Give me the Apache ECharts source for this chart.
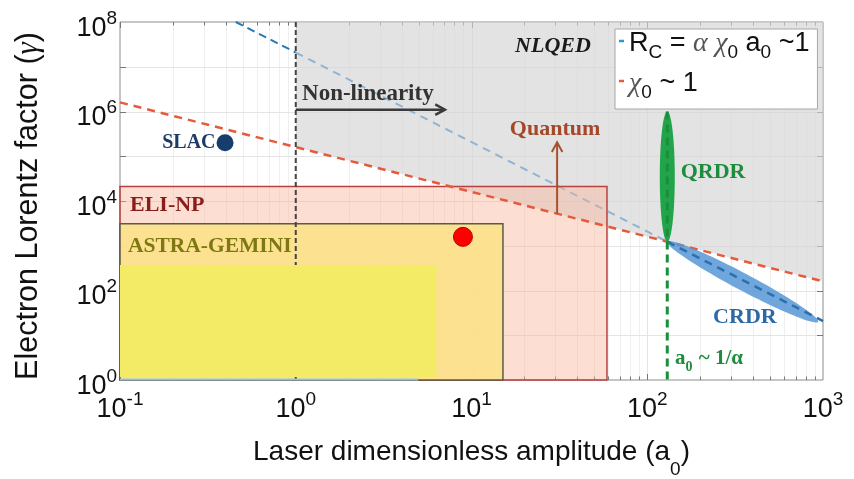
<!DOCTYPE html>
<html>
<head>
<meta charset="utf-8">
<script src="https://cdn.jsdelivr.net/npm/echarts@6/dist/echarts.min.js"></script>
<style>
  html, body { margin: 0; padding: 0; background: #fff; }
  #chart { width: 854px; height: 479px; }
</style>
</head>
<body>
<div id="chart"></div>
<script>
// Strong-field QED regimes in the (a0, gamma) plane

// axis decades (exponents of ten)
const xExponents = [-1, 0, 1, 2, 3];
const yExponents = [0, 2, 4, 6, 8];

// chi0 ~ 1 boundary
const chiLine = [[0.1, 1.6e6], [1000, 160]];
// Rc = alpha chi0 a0 ~ 1 boundary, in three pieces
const rcLeft = [[0.456, 1e8], [1, 2.08e7]];
const rcMid = [[1, 2.08e7], [130, 1230]];
const rcRight = [[130, 1230], [1000, 20.8]];
// a0 ~ 1/alpha
const alphaLine = [[130, 1e6], [130, 1]];
// a0 ~ 1 (onset of non-linearity)
const unitLine = [[1, 1e8], [1, 1]];
// thin strip along the bottom edge
const bottomStrip = [[0.1, 1.02], [4.97, 1.02]];

// NLQED region outline
const nlqedRegion = [[1, 1e8], [1000, 1e8], [1000, 160], [1, 1.6e5]];

// facility boxes: [a0 min, a0 max, gamma min, gamma max]
const eliNp = [[0.1, 59, 1, 2.1e4]];
const astraGemini = [[0.1, 15.1, 1, 3.1e3]];
const patchBox = [[0.1, 6.3, 1.17, 372]];

// radiation-dominated regimes: [a0 start, gamma start, a0 end, gamma end]
const qrdr = [[130, 1230, 130, 1e6]];
const crdr = [[130, 1230, 938, 20]];

// experiments
const slac = [[0.396, 2e5]];
const redPoint = [[8.94, 1580]];

// arrows: [a0 from, gamma from, a0 to, gamma to]
const nonlinArrow = [[1, 1.1e6, 7.06, 1.1e6]];
const quantumArrow = [[30.7, 5.2e3, 30.7, 2.05e5]];

// annotations
const noteText = ['NLQED', 'Non-linearity', 'Quantum', 'QRDR', 'CRDR', 'ELI-NP', 'ASTRA-GEMINI', 'a0'];
const notePos = [[17.7, 2.8e7], [1.086, 2.5e6], [29.9, 3.9e5], [155, 4.3e4], [237, 25.7], [0.114, 8200], [0.111, 945], [144, 2.8]];

const SANS = '"Liberation Sans", Arial, sans-serif';
const SERIF = '"Liberation Serif", "Times New Roman", serif';

const noteStyle = [
  { color: '#1a1a1a', italic: true, align: 'left', size: 22 },
  { color: '#333333', align: 'left', size: 23 },
  { color: '#a4482a', align: 'center', size: 22 },
  { color: '#1d8c3d', align: 'left', size: 22 },
  { color: '#2d6aa5', align: 'left', size: 22 },
  { color: '#8b1c1c', align: 'left', size: 22 },
  { color: '#7d7812', align: 'left', size: 21.5 },
  { color: '#1d8c3d', align: 'left', size: 21, rich: true }
];

const X_MIN = 0.1, X_MAX = 1000, Y_MIN = 1, Y_MAX = 1e8;

function lineSeries(name, data, color, width, dash, z) {
  return {
    type: 'line', name: name, data: data, symbol: 'none', silent: true,
    lineStyle: { color: color, width: width, type: dash },
    itemStyle: { color: color }, z: z
  };
}

function boxSeries(data, fill, stroke, z) {
  return {
    type: 'custom', data: data, z: z, silent: true,
    encode: { x: [0, 1], y: [2, 3] },
    renderItem: function (params, api) {
      const p0 = api.coord([api.value(0), api.value(2)]);
      const p1 = api.coord([api.value(1), api.value(3)]);
      return {
        type: 'rect',
        shape: {
          x: Math.min(p0[0], p1[0]), y: Math.min(p0[1], p1[1]),
          width: Math.abs(p1[0] - p0[0]), height: Math.abs(p1[1] - p0[1])
        },
        style: { fill: fill, stroke: stroke || null, lineWidth: stroke ? 1.5 : 0 }
      };
    }
  };
}

function ellipseSeries(data, halfWidth, fill, z) {
  return {
    type: 'custom', data: data, z: z, silent: true,
    encode: { x: [0, 2], y: [1, 3] },
    renderItem: function (params, api) {
      const a = api.coord([api.value(0), api.value(1)]);
      const b = api.coord([api.value(2), api.value(3)]);
      const cx = (a[0] + b[0]) / 2, cy = (a[1] + b[1]) / 2;
      const dx = (b[0] - a[0]) / 2, dy = (b[1] - a[1]) / 2;
      const len = Math.hypot(dx, dy);
      const nx = -dy / len * halfWidth, ny = dx / len * halfWidth;
      const pts = [];
      for (let i = 0; i < 96; i++) {
        const t = i / 96 * Math.PI * 2;
        pts.push([cx + dx * Math.cos(t) + nx * Math.sin(t), cy + dy * Math.cos(t) + ny * Math.sin(t)]);
      }
      return { type: 'polygon', shape: { points: pts }, style: { fill: fill } };
    }
  };
}

function arrowSeries(data, color, width, z) {
  return {
    type: 'custom', data: data, z: z, silent: true,
    encode: { x: [0, 2], y: [1, 3] },
    renderItem: function (params, api) {
      const a = api.coord([api.value(0), api.value(1)]);
      const b = api.coord([api.value(2), api.value(3)]);
      const ang = Math.atan2(b[1] - a[1], b[0] - a[0]);
      const h = 11, spread = 0.5;
      const l = [b[0] - h * Math.cos(ang - spread), b[1] - h * Math.sin(ang - spread)];
      const r = [b[0] - h * Math.cos(ang + spread), b[1] - h * Math.sin(ang + spread)];
      return {
        type: 'group', children: [
          { type: 'line', shape: { x1: a[0], y1: a[1], x2: b[0], y2: b[1] }, style: { stroke: color, lineWidth: width } },
          { type: 'polyline', shape: { points: [l, b, r] }, style: { stroke: color, lineWidth: width, fill: null } }
        ]
      };
    }
  };
}

// faint log grid with inward ticks on all four sides
const minorSteps = [1, 2, 3, 4, 5, 6, 7, 8, 9];
const gridX = [];
for (let e = -1; e < 3; e++) minorSteps.forEach(function (m) { gridX.push([m * Math.pow(10, e), m === 1 ? 1 : 0]); });
const gridY = [];
for (let e = 1; e < 8; e++) gridY.push([Math.pow(10, e)]);

const gridSeriesX = {
  type: 'custom', data: gridX, z: 0, silent: true, encode: { x: 0 },
  renderItem: function (params, api) {
    const v = api.value(0), major = api.value(1) === 1;
    const a = api.coord([v, Y_MIN]), b = api.coord([v, Y_MAX]);
    const x = Math.round(a[0]) + 0.5;
    const t = major ? 6 : 3.5;
    const kids = [];
    if (v > X_MIN) kids.push({ type: 'line', shape: { x1: x, y1: a[1], x2: x, y2: b[1] }, style: { stroke: major ? '#e4e4e4' : '#efefef', lineWidth: 1 } });
    kids.push({ type: 'line', shape: { x1: x, y1: a[1], x2: x, y2: a[1] - t }, style: { stroke: '#777', lineWidth: 1 } });
    kids.push({ type: 'line', shape: { x1: x, y1: b[1], x2: x, y2: b[1] + t }, style: { stroke: '#777', lineWidth: 1 } });
    return { type: 'group', children: kids };
  }
};
const gridSeriesY = {
  type: 'custom', data: gridY, z: 0, silent: true, encode: { y: 0 },
  renderItem: function (params, api) {
    const v = api.value(0);
    const a = api.coord([X_MIN, v]), b = api.coord([X_MAX, v]);
    const y = Math.round(a[1]) + 0.5;
    return {
      type: 'group', children: [
        { type: 'line', shape: { x1: a[0], y1: y, x2: b[0], y2: y }, style: { stroke: '#e4e4e4', lineWidth: 1 } },
        { type: 'line', shape: { x1: a[0], y1: y, x2: a[0] + 6, y2: y }, style: { stroke: '#777', lineWidth: 1 } },
        { type: 'line', shape: { x1: b[0], y1: y, x2: b[0] - 6, y2: y }, style: { stroke: '#777', lineWidth: 1 } }
      ]
    };
  }
};

const regionSeries = {
  type: 'custom', data: nlqedRegion, z: 1, silent: true, encode: { x: 0, y: 1 },
  renderItem: function (params, api) {
    if (params.dataIndex !== 0) return null;
    const pts = nlqedRegion.map(function (p) { return api.coord(p); });
    return { type: 'polygon', shape: { points: pts }, style: { fill: 'rgba(212,212,212,0.66)' } };
  }
};

const noteSeries = {
  type: 'custom', data: notePos, z: 20, silent: true, encode: { x: 0, y: 1 },
  renderItem: function (params, api) {
    const i = params.dataIndex;
    const p = api.coord([api.value(0), api.value(1)]);
    const s = noteStyle[i];
    const font = (s.italic ? 'italic ' : '') + 'bold ' + s.size + 'px ' + SERIF;
    const style = {
      x: p[0], y: p[1], text: noteText[i], fill: s.color, font: font,
      align: s.align, verticalAlign: 'middle'
    };
    if (s.rich) {
      style.text = '{b|a}{s|0}{b| ~ 1/α}';
      style.rich = {
        b: { fontFamily: SERIF, fontWeight: 'bold', fontSize: s.size, fill: s.color, lineHeight: 24, verticalAlign: 'top' },
        s: { fontFamily: SERIF, fontWeight: 'bold', fontSize: 14, fill: s.color, lineHeight: 12, verticalAlign: 'top', padding: [12, 1, 0, 0] }
      };
    }
    return { type: 'text', style: style };
  }
};

const expLabel = function (v) {
  const e = Math.round(Math.log10(v));
  return '{b|10}{s|' + (e < 0 ? '-' + (-e) : e) + '}';
};
const labelRich = {
  b: { fontFamily: SANS, fontSize: 27, color: '#111', lineHeight: 26, verticalAlign: 'top', padding: [6, 0, 0, 0] },
  s: { fontFamily: SANS, fontSize: 19, color: '#111', lineHeight: 10, verticalAlign: 'top' }
};

const chart = echarts.init(document.getElementById('chart'));
chart.setOption({
  animation: false,
  backgroundColor: '#fff',
  grid: { left: 120, right: 31, top: 22, bottom: 99, show: true, borderColor: '#8c8c8c', borderWidth: 1, outerBoundsMode: 'none', containLabel: false },
  legend: {
    data: [
      { name: 'rc', itemStyle: { color: '#2b9bc9' } },
      { name: 'chi', itemStyle: { color: '#e8583a' } }
    ],
    orient: 'vertical', left: 615, top: 29,
    padding: [1, 8, 7, 4], itemGap: 8,
    backgroundColor: '#fff', borderColor: '#a8a8a8', borderWidth: 1,
    icon: 'rect', itemWidth: 5, itemHeight: 2.5,
    selectedMode: false,
    formatter: function (n) {
      if (n === 'rc') return '{t|R}{s|C}{t| = }{g|α}{t| }{g|χ}{s|0}{t| a}{s|0}{t| ~1}';
      return '{g|χ}{s|0}{t| ~ 1}';
    },
    textStyle: {
      rich: {
        t: { fontFamily: SANS, fontSize: 27, color: '#111', lineHeight: 22, verticalAlign: 'top' },
        g: { fontFamily: SERIF, fontStyle: 'italic', fontSize: 28, color: '#555', lineHeight: 22, verticalAlign: 'top' },
        s: { fontFamily: SANS, fontSize: 19, color: '#111', lineHeight: 18, verticalAlign: 'top', padding: [13, 0, 0, 0] }
      }
    }
  },
  xAxis: {
    type: 'log', logBase: 10, min: X_MIN, max: X_MAX, interval: 1,
    name: 'Laser dimensionless amplitude (a{s|0})',
    nameLocation: 'middle', nameGap: 58,
    nameTextStyle: {
      fontFamily: SANS, fontSize: 28, color: '#111',
      rich: {
        s: { fontFamily: SANS, fontSize: 19, color: '#111', lineHeight: 12, verticalAlign: 'top', padding: [22, 0, 0, 0] }
      }
    },
    axisLine: { show: false }, axisTick: { show: false }, splitLine: { show: false },
    axisLabel: { formatter: expLabel, rich: labelRich, margin: 10 }
  },
  yAxis: {
    type: 'log', logBase: 10, min: Y_MIN, max: Y_MAX, interval: 2,
    name: 'Electron Lorentz factor ({g|γ})',
    nameLocation: 'middle', nameGap: 76,
    nameTextStyle: {
      fontFamily: SANS, fontSize: 30.5, color: '#111', padding: [0, 10, 0, 0],
      rich: { g: { fontFamily: SERIF, fontStyle: 'italic', fontSize: 31, color: '#111' } }
    },
    axisLine: { show: false }, axisTick: { show: false }, splitLine: { show: false },
    axisLabel: { formatter: expLabel, rich: labelRich, margin: 3 }
  },
  series: [
    gridSeriesX,
    gridSeriesY,
    lineSeries('rc', rcLeft, '#2779b6', 2, [8, 5], 2),
    lineSeries('', rcMid, '#8fb4d3', 2, [8, 6], 2),
    regionSeries,
    boxSeries(eliNp, 'rgba(249,178,148,0.42)', '#b8413f', 3),
    boxSeries(astraGemini, 'rgba(252,226,140,0.95)', '#5c5a45', 4),
    lineSeries('chi', chiLine, '#e8583a', 2.5, [8, 6], 6),
    ellipseSeries(qrdr, 7.5, '#22a44a', 7),
    ellipseSeries(crdr, 8.5, 'rgba(86,150,214,0.85)', 7),
    lineSeries('', rcRight, '#2a6fae', 2.5, [8, 6], 8),
    lineSeries('', alphaLine, '#1a8f3a', 3, [8, 5], 8),
    lineSeries('', unitLine, '#444444', 2, [5, 3], 9),
    boxSeries(patchBox, '#f3eb66', null, 10),
    lineSeries('', bottomStrip, '#8fc3dc', 2, 'solid', 10),
    arrowSeries(nonlinArrow, '#3a3a3a', 2.5, 11),
    arrowSeries(quantumArrow, '#a5522d', 2, 11),
    {
      type: 'scatter', data: slac, symbolSize: 17, z: 12, silent: true,
      itemStyle: { color: '#163d6b', opacity: 1 },
      label: { show: true, position: 'left', distance: 1, formatter: 'SLAC', fontFamily: SERIF, fontWeight: 'bold', fontSize: 20, color: '#1d3b63' }
    },
    {
      type: 'scatter', data: redPoint, symbolSize: 19, z: 12, silent: true,
      itemStyle: { color: '#ff0000', borderColor: '#b30000', borderWidth: 1, opacity: 1 }
    },
    noteSeries
  ]
});
</script>
</body>
</html>
